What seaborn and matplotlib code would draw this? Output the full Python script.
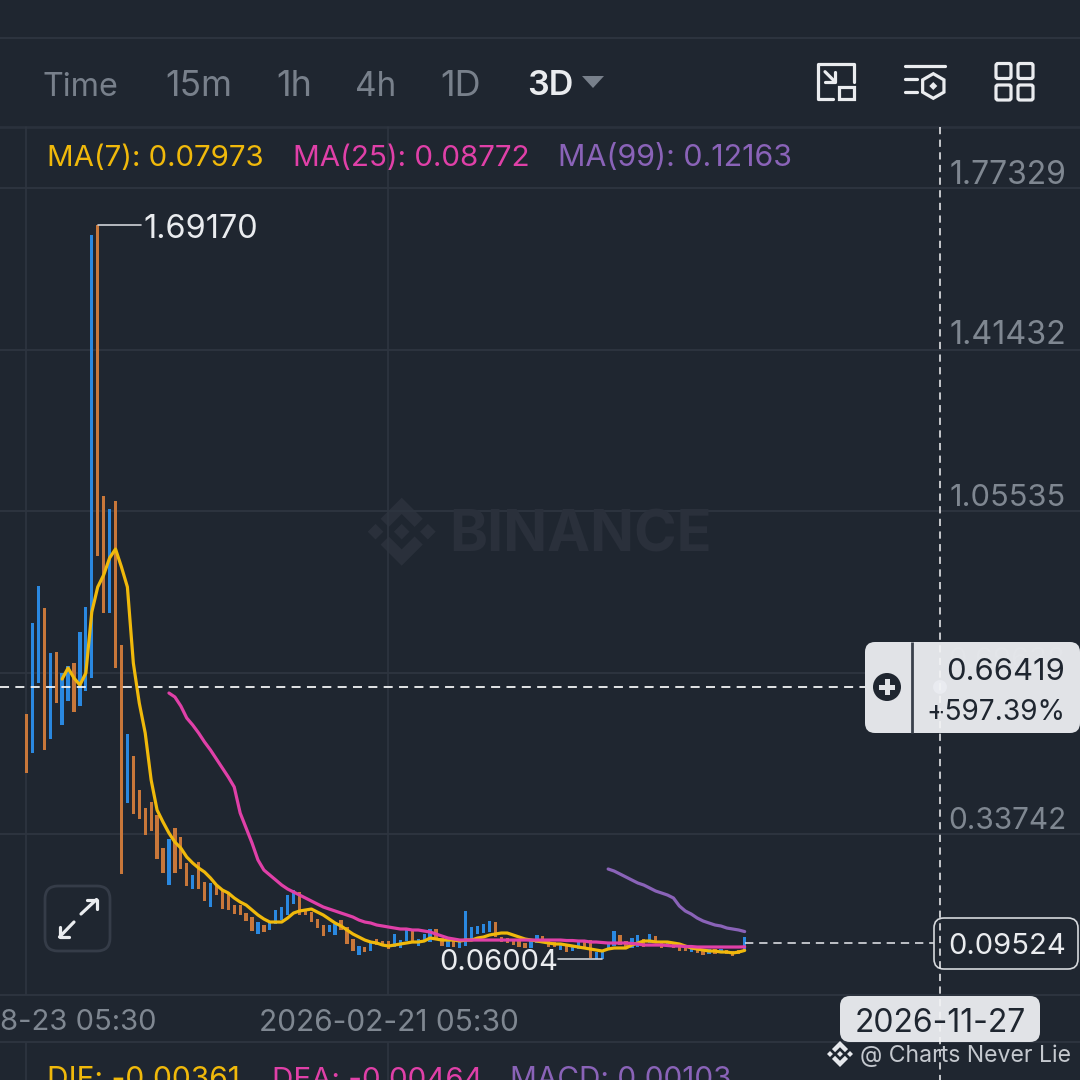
"""
3D candle chart screen with MA(7), MA(25), MA(99)
"""
import numpy as np
import pandas as pd
import matplotlib
matplotlib.use("Agg")
import matplotlib.pyplot as plt
from matplotlib.patches import FancyBboxPatch, Polygon, Circle, Rectangle
import seaborn as sns

# candles, in order, B = blue, O = orange
candle_side = ("OBBOBOBBOB" "BBOOBOOBOO" "OOOOBOOOBO" "OBOOOOOOOB" "OBBBBBOOOO"
               "OBBOOOBOBO" "OOBBBOBBBO" "OBOBBBBBBO" "OOOOOBBOOO" "BOBBOOBBBB"
               "OOBBOBOOBO" "OOBOOBOBOO" "OB")
candle_high = [
    0.6049, 0.8070, 0.8892, 0.8404, 0.7404, 0.7426, 0.6960, 0.7115, 0.7182, 0.7870,
    0.8426, 1.6689, 1.6917, 1.0892, 1.0603, 1.0781, 0.7582, 0.5605, 0.5116, 0.4361,
    0.3961, 0.4094, 0.3805, 0.3072, 0.3272, 0.3516, 0.3316, 0.2739, 0.2472, 0.2761,
    0.2317, 0.2295, 0.2250, 0.2139, 0.2073, 0.1806, 0.1806, 0.1628, 0.1539, 0.1428,
    0.1362, 0.1428, 0.1695, 0.1762, 0.2028, 0.2139, 0.2095, 0.1695, 0.1650, 0.1495,
    0.1362, 0.1362, 0.1384, 0.1473, 0.1317, 0.1051, 0.0895, 0.0873, 0.0984, 0.1051,
    0.1006, 0.1006, 0.1162, 0.1028, 0.1251, 0.1273, 0.1051, 0.1162, 0.1273, 0.1273,
    0.1073, 0.1028, 0.1028, 0.1006, 0.1673, 0.1317, 0.1340, 0.1384, 0.1451, 0.1428,
    0.1095, 0.1073, 0.1028, 0.1006, 0.0962, 0.1028, 0.1140, 0.1117, 0.1028, 0.0984,
    0.0962, 0.0940, 0.0917, 0.0984, 0.0984, 0.1028, 0.0762, 0.0762, 0.0962, 0.1228,
    0.1140, 0.1006, 0.1073, 0.1140, 0.1051, 0.1162, 0.1117, 0.0984, 0.0962, 0.0962,
    0.0917, 0.0895, 0.0873, 0.0851, 0.0806, 0.0829, 0.0829, 0.0829, 0.0806, 0.0784,
    0.0806, 0.1095,
]
candle_low = [
    0.4738, 0.5183, 0.6738, 0.5249, 0.5494, 0.6293, 0.5805, 0.6338, 0.6093, 0.6227,
    0.6560, 0.6849, 0.9559, 0.8293, 0.8293, 0.7071, 0.2495, 0.4072, 0.3827, 0.3716,
    0.3361, 0.3450, 0.2828, 0.2517, 0.2250, 0.2517, 0.2606, 0.2228, 0.2161, 0.2161,
    0.1895, 0.1762, 0.2028, 0.1717, 0.1695, 0.1606, 0.1584, 0.1451, 0.1228, 0.1162,
    0.1206, 0.1251, 0.1384, 0.1473, 0.1584, 0.1828, 0.1584, 0.1584, 0.1428, 0.1295,
    0.1117, 0.1206, 0.1140, 0.1251, 0.0940, 0.0784, 0.0695, 0.0762, 0.0784, 0.0917,
    0.0895, 0.0829, 0.0873, 0.0851, 0.1006, 0.0962, 0.0895, 0.1028, 0.0984, 0.1028,
    0.0895, 0.0873, 0.0873, 0.0851, 0.0895, 0.1028, 0.1162, 0.1184, 0.1206, 0.1095,
    0.0984, 0.0962, 0.0917, 0.0873, 0.0851, 0.0851, 0.0962, 0.0984, 0.0873, 0.0873,
    0.0806, 0.0762, 0.0784, 0.0829, 0.0873, 0.0629, 0.0606, 0.06004, 0.0829, 0.0895,
    0.0917, 0.0873, 0.0851, 0.0873, 0.0873, 0.0962, 0.0962, 0.0851, 0.0873, 0.0851,
    0.0784, 0.0784, 0.0762, 0.0740, 0.0695, 0.0717, 0.0717, 0.0740, 0.0717, 0.0673,
    0.0717, 0.0806,
]

# moving averages, first value sits on candle 6 / 24 / 98
ma7_start = 6
ma7_values = [
    0.6826, 0.7071, 0.6849, 0.6693, 0.6960, 0.8315, 0.8870, 0.9137, 0.9514, 0.9714,
    0.9314, 0.8870, 0.7182, 0.6293, 0.5627, 0.4583, 0.3916, 0.3650, 0.3405, 0.3205,
    0.3072, 0.2872, 0.2739, 0.2628, 0.2539, 0.2406, 0.2250, 0.2139, 0.2073, 0.1962,
    0.1873, 0.1806, 0.1695, 0.1584, 0.1495, 0.1428, 0.1428, 0.1428, 0.1517, 0.1628,
    0.1673, 0.1695, 0.1717, 0.1650, 0.1584, 0.1495, 0.1406, 0.1340, 0.1251, 0.1162,
    0.1095, 0.1028, 0.0984, 0.0962, 0.0917, 0.0895, 0.0917, 0.0940, 0.0962, 0.0984,
    0.0984, 0.1006, 0.1073, 0.1051, 0.1028, 0.1028, 0.1028, 0.1006, 0.1028, 0.1028,
    0.1073, 0.1095, 0.1140, 0.1162, 0.1184, 0.1184, 0.1140, 0.1095, 0.1051, 0.1028,
    0.1006, 0.0984, 0.0962, 0.0940, 0.0940, 0.0917, 0.0895, 0.0873, 0.0851, 0.0829,
    0.0806, 0.0784, 0.0829, 0.0851, 0.0851, 0.0851, 0.0917, 0.0962, 0.1006, 0.1006,
    0.0984, 0.0984, 0.0984, 0.0962, 0.0940, 0.0895, 0.0851, 0.0829, 0.0806, 0.0784,
    0.0784, 0.0762, 0.0762, 0.0740, 0.0762, 0.07973,
]
ma25_start = 24
ma25_values = [
    0.6515, 0.6427, 0.6227, 0.5960, 0.5805, 0.5627, 0.5427, 0.5249, 0.5049, 0.4849,
    0.4649, 0.4427, 0.3850, 0.3516, 0.3183, 0.2806, 0.2583, 0.2472, 0.2361, 0.2250,
    0.2161, 0.2095, 0.2028, 0.1962, 0.1895, 0.1828, 0.1762, 0.1717, 0.1673, 0.1628,
    0.1584, 0.1539, 0.1473, 0.1428, 0.1406, 0.1362, 0.1340, 0.1317, 0.1295, 0.1273,
    0.1273, 0.1251, 0.1251, 0.1228, 0.1206, 0.1162, 0.1117, 0.1073, 0.1051, 0.1028,
    0.1028, 0.1028, 0.1028, 0.1028, 0.1028, 0.1028, 0.1028, 0.1028, 0.1028, 0.1028,
    0.1028, 0.1028, 0.1028, 0.1028, 0.1028, 0.1028, 0.1028, 0.1017, 0.1017, 0.1006,
    0.1006, 0.0984, 0.0984, 0.0973, 0.0962, 0.0962, 0.0962, 0.0962, 0.0951, 0.0940,
    0.0917, 0.0917, 0.0917, 0.0917, 0.0906, 0.0895, 0.0895, 0.0884, 0.0884, 0.0873,
    0.0873, 0.0873, 0.0873, 0.0873, 0.0873, 0.0873, 0.0873, 0.08772,
]
ma99_start = 98
ma99_values = [
    0.2606, 0.2561, 0.2495, 0.2428, 0.2361, 0.2295, 0.2250, 0.2184, 0.2117, 0.2073,
    0.2028, 0.1962, 0.1784, 0.1673, 0.1606, 0.1517, 0.1451, 0.1406, 0.1362, 0.1340,
    0.1295, 0.1273, 0.1251, 0.12163,
]

tabs = ["Time", "15m", "1h", "4h", "1D"]
price_ticks = ["1.77329", "1.41432", "1.05535", "0.33742"]
date_ticks = ["8-23 05:30", "2026-02-21 05:30"]

BG = "#1f2630"
GRID = "#2e3540"
BLUE = "#2a88e0"
ORANGE = "#c8773a"
YELLOW = "#f0b90b"
PINK = "#e040a8"
PURPLE = "#8a63b8"
MUTED = "#7f8791"
TAB = "#78808b"
LIGHT = "#eaecef"
PANEL = "#e1e3e7"
DARK = "#1f2630"

sns.set_theme(style="dark", rc={"figure.facecolor": BG, "axes.facecolor": BG})
plt.rcParams["font.family"] = ["Inter", "DejaVu Sans"]

fig = plt.figure(figsize=(10.8, 10.8), dpi=100)


def pixel_axes(z):
    a = fig.add_axes([0, 0, 1, 1], zorder=z)
    a.set_xlim(0, 1080)
    a.set_ylim(1080, 0)
    a.axis("off")
    a.patch.set_alpha(0)
    return a


back = pixel_axes(0)
ax = fig.add_axes([0, 0, 1, 1], zorder=1)
front = pixel_axes(2)
ax.patch.set_alpha(0)
ax.axis("off")
ax.set_xlim(-4.465, 177.5)
ax.set_ylim(-0.2081, 2.1910)


def binance_logo(a, cx, cy, r, color, zorder=1):
    chevron = [(0, 1), (0.62, 0.38), (0.38, 0.14), (0, 0.52), (-0.38, 0.14), (-0.62, 0.38)]
    diamond = [(0, 0.23), (0.23, 0), (0, -0.23), (-0.23, 0)]
    for sign in (1, -1):
        pts = [(cx + r * px, cy - sign * r * py) for px, py in chevron]
        a.add_patch(Polygon(pts, closed=True, fc=color, ec="none", zorder=zorder))
    for dx in (-0.77, 0, 0.77):
        pts = [(cx + r * (px + dx), cy + r * py) for px, py in diamond]
        a.add_patch(Polygon(pts, closed=True, fc=color, ec="none", zorder=zorder))


# background grid and watermark
for y in [188, 350, 511, 673, 834, 995, 1042]:
    back.plot([0, 1080], [y, y], color=GRID, lw=1.3)
back.plot([0, 1080], [38, 38], color=GRID, lw=1.3)
back.plot([0, 1080], [127, 127], color="#2a313c", lw=2)
for x in [26, 388]:
    back.plot([x, x], [127, 995], color=GRID, lw=1.2)
    back.plot([x, x], [1042, 1080], color=GRID, lw=1.2)
binance_logo(back, 401.7, 531.7, 34, "#2a303b")
back.text(449, 536, "BINANCE", color="#2a303b", fontsize=41.5, fontweight="bold",
          va="center", ha="left")

# candles
x_pos = np.arange(len(candle_high))
high = np.array(candle_high)
low = np.array(candle_low)
colors = [BLUE if s == "B" else ORANGE for s in candle_side]
ax.bar(x_pos, high - low, bottom=low, width=0.55, color=colors, linewidth=0)

# moving averages
ma_rows = []
for name, start, values in [("MA7", ma7_start, ma7_values),
                            ("MA25", ma25_start, ma25_values),
                            ("MA99", ma99_start, ma99_values)]:
    ma_rows.append(pd.DataFrame({"candle": np.arange(len(values)) + start,
                                 "price": values, "line": name}))
ma_df = pd.concat(ma_rows, ignore_index=True)
sns.lineplot(data=ma_df, x="candle", y="price", hue="line", ax=ax, legend=False,
             palette={"MA7": YELLOW, "MA25": PINK, "MA99": PURPLE},
             hue_order=["MA7", "MA25", "MA99"], linewidth=2.3, errorbar=None, sort=False,
             solid_joinstyle="round", solid_capstyle="round")
ax.axis("off")

# crosshair and current price line
front.plot([0, 865], [687, 687], color="#f2f3f5", lw=1.3, dashes=(5, 3.5))
front.plot([745, 934], [943.4, 943.4], color="#d8dbe0", lw=1.2, dashes=(5, 3.5))

# top tabs
tab_x = [43, 165, 276, 355, 440]
tab_size = [23.3, 25.5, 26, 24, 26]
for label, x, size in zip(tabs, tab_x, tab_size):
    front.text(x, 87, label, color=TAB, fontsize=size, va="center", ha="left")
front.text(527, 86, "3D", color=LIGHT, fontsize=24.5, fontweight="semibold", va="center", ha="left")
front.add_patch(Polygon([(582, 76), (604, 76), (593, 88)], closed=True, fc=TAB, ec="none"))

# legend row
front.text(47, 158, "MA(7): 0.07973", color=YELLOW, fontsize=21.2, va="center", ha="left")
front.text(293, 158, "MA(25): 0.08772", color=PINK, fontsize=21.3, va="center", ha="left")
front.text(558, 158, "MA(99): 0.12163", color=PURPLE, fontsize=21.9, va="center", ha="left")

# icons
ic = dict(color=LIGHT, lw=2.3, solid_capstyle="round", solid_joinstyle="round")
front.plot([833.3, 817.7, 817.7, 854, 854], [99.3, 99.3, 64, 64, 81.7], **ic)
front.add_patch(Rectangle((839, 87.3), 15, 12, fc="none", ec=LIGHT, lw=2.3))
front.plot([825, 835], [71.7, 81.7], **ic)
front.plot([825, 835, 835], [81.7, 81.7, 71.7], **ic)
front.plot([905, 945], [65.7, 65.7], **ic)
front.plot([905, 916.5], [79, 79], **ic)
front.plot([905, 916.5], [92.3, 92.3], **ic)
hex_angles = np.deg2rad(np.arange(30, 390, 60))
front.add_patch(Polygon(np.c_[933.3 + 12.3 * np.cos(hex_angles), 86 + 12.3 * np.sin(hex_angles)],
                        closed=True, fc="none", ec=LIGHT, lw=2.3))
front.add_patch(Polygon([(933.3, 82), (937.3, 86), (933.3, 90), (929.3, 86)],
                        closed=True, fc=LIGHT, ec="none"))
for x0 in (996, 1018):
    for y0 in (63.5, 85):
        front.add_patch(FancyBboxPatch((x0 + 2, y0 + 2), 11, 11, boxstyle="round,pad=2,rounding_size=2",
                                       fc="none", ec=LIGHT, lw=2.3))

# price axis
tick_size = [23, 23.3, 22.2, 21.4]
for label, y, size in zip(price_ticks, [175, 336, 498, 821], tick_size):
    front.text(1066, y, label, color=MUTED, fontsize=size, va="center", ha="right")

# date axis
front.text(0, 1023, date_ticks[0], color=MUTED, fontsize=21, va="center", ha="left")
front.text(389, 1023, date_ticks[1], color=MUTED, fontsize=21.5, va="center", ha="center")

# high / low callouts
front.plot([98, 141], [225, 225], color="#cfd2d7", lw=1.2)
front.text(143, 230, "1.69170", color=LIGHT, fontsize=23.4, va="center", ha="left")
front.plot([558, 602], [959, 959], color="#cfd2d7", lw=1.2)
front.text(558.5, 963, "0.06004", color=LIGHT, fontsize=21, va="center", ha="right")

# crosshair price panel
front.add_patch(FancyBboxPatch((875, 652), 195, 71, boxstyle="round,pad=10,rounding_size=10",
                               fc=PANEL, ec="none", zorder=3))
front.plot([912, 912], [642, 733], color="#3a414c", lw=2, zorder=4, solid_capstyle="butt")
front.add_patch(Circle((887, 687), 14, fc=DARK, ec="none", zorder=4))
front.add_patch(Rectangle((879, 684.5), 16, 5, fc=PANEL, ec="none", zorder=5))
front.add_patch(Rectangle((884.5, 679), 5, 16, fc=PANEL, ec="none", zorder=5))
front.text(1065, 660, "0.69638", color="#e3e5e9", fontsize=21, va="center", ha="right", zorder=4)
front.text(1065, 672, "0.66419", color=DARK, fontsize=22.3, va="center", ha="right", zorder=5)
front.text(1065, 712, "+597.39%", color=DARK, fontsize=20.2, va="center", ha="right", zorder=5)
front.add_patch(Circle((940, 687), 7, fc="#e9ebf0", ec="none", zorder=5))

# last price box
front.add_patch(FancyBboxPatch((944, 928), 124, 31, boxstyle="round,pad=10,rounding_size=10",
                               fc=BG, ec="#d5d8dc", lw=1.2, zorder=3))
front.text(1007, 946, "0.09524", color=LIGHT, fontsize=21, va="center", ha="center", zorder=5)

# date box
front.add_patch(FancyBboxPatch((850, 1006), 180, 26, boxstyle="round,pad=10,rounding_size=10",
                               fc=PANEL, ec="none", zorder=3))
front.text(940, 1023, "2026-11-27", color=DARK, fontsize=23, va="center", ha="center", zorder=5)

# vertical crosshair sits over the panels
front.plot([940, 940], [127, 1080], color="#f2f3f5", lw=1.3, dashes=(4, 3), zorder=6, alpha=0.85)

# expand button
front.add_patch(FancyBboxPatch((55, 896), 45, 45, boxstyle="round,pad=10,rounding_size=13",
                               fc="none", ec="#353c48", lw=2))
ar = dict(color=LIGHT, lw=2.3, solid_capstyle="round", solid_joinstyle="round")
front.plot([81, 96.5], [914, 899.5], **ar)
front.plot([87, 96.5, 96.5], [899.5, 899.5, 909], **ar)
front.plot([74, 59.5], [922, 937], **ar)
front.plot([59.5, 59.5, 69], [927, 937, 937], **ar)

# MACD row, cut by the bottom edge
front.text(47, 1080, "DIF: -0.00361", color=YELLOW, fontsize=21.6, va="center", ha="left")
front.text(272, 1080, "DEA: -0.00464", color=PINK, fontsize=21.3, va="center", ha="left")
front.text(510, 1080, "MACD: 0.00103", color=PURPLE, fontsize=21.4, va="center", ha="left")

# credit
binance_logo(front, 840, 1054, 13, "#e6e8ec", zorder=7)
front.text(860, 1056, "@ Charts Never Lie", color="#c4c8ce", fontsize=16.6, va="center", ha="left", zorder=7)

fig.savefig("out.png", dpi=100, facecolor=BG)
